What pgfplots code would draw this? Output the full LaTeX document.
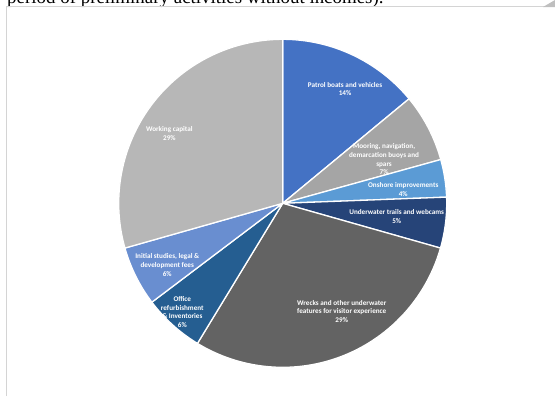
\documentclass[border=0pt]{standalone}
\usepackage{pgfplots}
\pgfplotsset{compat=1.18}
\usepackage{pgfplotstable}
\usepackage{fontspec}
\setmainfont{Liberation Serif}
\newfontfamily\calibri{Carlito}

\definecolor{c0}{HTML}{4472C4}
\definecolor{c1}{HTML}{A5A5A5}
\definecolor{c2}{HTML}{5B9BD5}
\definecolor{c3}{HTML}{264478}
\definecolor{c4}{HTML}{636363}
\definecolor{c5}{HTML}{255E91}
\definecolor{c6}{HTML}{698ED0}
\definecolor{c7}{HTML}{B7B7B7}
\definecolor{frame}{HTML}{D4D4D4}

% shares in percent, clockwise from 12 o'clock
\pgfplotstableread{
value
14.0
6.7
3.7
5.0
29.3
6.0
5.9
29.4
}\piedata

\begin{document}
\begin{tikzpicture}[x=1bp,y=1bp]
\useasboundingbox (0,-396) rectangle (555,0);
\begin{scope}
\clip (0,-396) rectangle (555,0);
\node[anchor=base west, inner sep=0, font=\fontsize{19}{21}\selectfont] at (7,-3.5) {period of preliminary activities without incomes).};
\end{scope}
\draw[color=frame, line width=1.2bp] (6.7,-396) -- (6.7,-6.7) -- (555,-6.7);
\fill[color=black!25] (555,0) -- (555,-7) -- (543,-7) -- cycle;

\begin{axis}[at={(282.7bp,-203.3bp)}, anchor=origin, x=164bp, y=164bp,
  xmin=-1.05, xmax=1.05, ymin=-1.05, ymax=1.05, hide axis, clip=false]
\def\cum{0}
\pgfplotsforeachungrouped \i in {0,...,7} {
  \pgfplotstablegetelem{\i}{value}\of\piedata
  \let\v\pgfplotsretval
  \pgfmathsetmacro\a{90-3.6*\cum}
  \pgfmathsetmacro\b{90-3.6*(\cum+\v)}
  \pgfmathsetmacro\ca{cos(\a)}
  \pgfmathsetmacro\sa{sin(\a)}
  \edef\tmp{\noexpand\fill[c\i, draw=white, line width=1.3bp] (axis cs:0,0) -- (axis cs:\ca,\sa) arc[start angle=\a, end angle=\b, radius=164bp] -- cycle;}
  \tmp
  \pgfmathsetmacro\cum{\cum+\v}
}
\tikzset{lbl/.style={text=white, align=center, inner sep=0pt, font=\calibri\bfseries\fontsize{7.2}{8.6}\selectfont}}
\node[lbl] at (axis cs:0.380,0.696) {Patrol boats and vehicles\\14\%};
\node[lbl] at (axis cs:0.618,0.268) {Mooring, navigation,\\demarcation buoys and\\spars\\7\%};
\node[lbl] at (axis cs:0.735,0.084) {Onshore improvements\\4\%};
\node[lbl] at (axis cs:0.695,-0.080) {Underwater trails and webcams\\5\%};
\node[lbl] at (axis cs:0.360,-0.658) {Wrecks and other underwater\\features for visitor experience\\29\%};
\node[lbl] at (axis cs:-0.612,-0.662) {Office\\refurbishment\\\& Inventories\\6\%};
\node[lbl] at (axis cs:-0.704,-0.376) {Initial studies, legal \&\\development fees\\6\%};
\node[lbl] at (axis cs:-0.691,0.426) {Working capital\\29\%};
\end{axis}
\end{tikzpicture}
\end{document}
